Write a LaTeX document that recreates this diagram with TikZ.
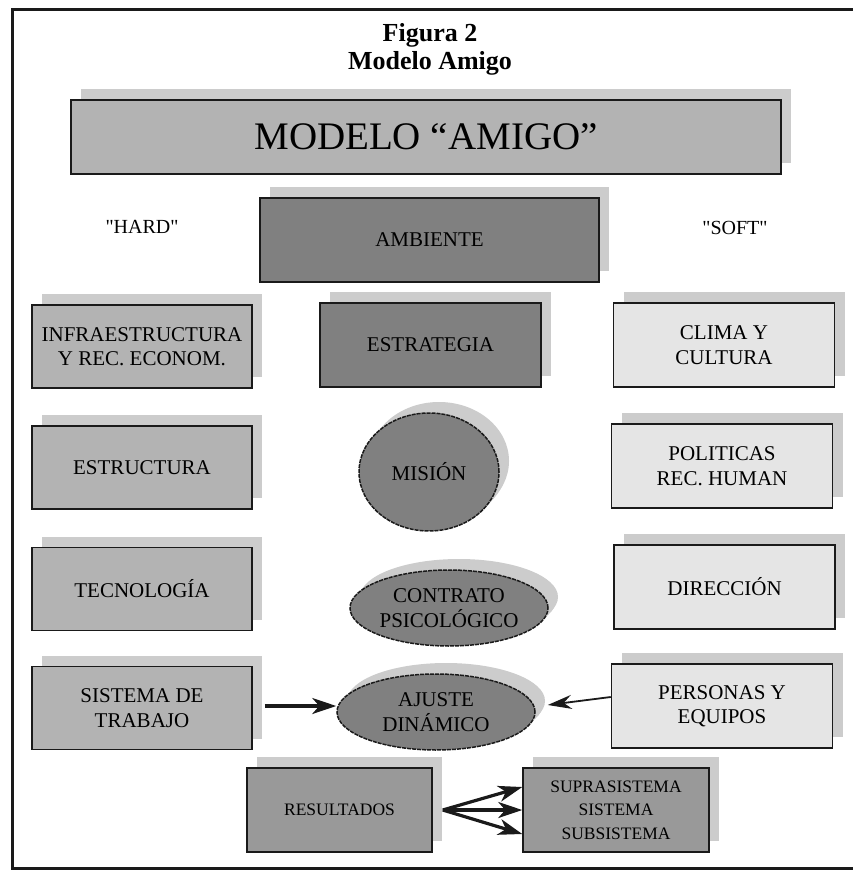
\documentclass[tikz,border=0pt]{standalone}
\usepackage{fontspec}
\setmainfont{Liberation Serif}
\newfontfamily\rawserif[Ligatures=TeXOff]{Liberation Serif}
\usetikzlibrary{shapes.geometric,shadows,arrows.meta}
\definecolor{hardgray}{HTML}{B3B3B3}
\definecolor{darkfill}{HTML}{808080}
\definecolor{midfill}{HTML}{999999}
\definecolor{softgray}{HTML}{E5E5E5}
\definecolor{shd}{HTML}{CCCCCC}
\definecolor{edge}{HTML}{1A1A1A}
\tikzset{
  base/.style={draw=edge, line width=1.5pt, align=center, inner sep=0pt,
    general shadow={fill=shd, shadow xshift=10pt, shadow yshift=11pt},
    font=\fontsize{21}{24.5}\selectfont},
  hardbox/.style={base, fill=hardgray, minimum width=220pt, minimum height=83pt},
  softbox/.style={base, fill=softgray, minimum width=221pt, minimum height=84pt},
  darkbox/.style={base, fill=darkfill, minimum height=84pt},
  midbox/.style={base, fill=midfill, minimum width=186pt, minimum height=84pt,
    font=\fontsize{17.5}{23.5}\selectfont},
  oval/.style={base, ellipse, fill=darkfill, dash pattern=on 4pt off 1pt,
    general shadow={fill=shd, shadow xshift=8pt, shadow yshift=8pt}},
  heading/.style={font=\fontsize{26}{29}\bfseries\selectfont},
  sidelabel/.style={font=\rawserif\fontsize{20}{23}\selectfont},
  thickarrow/.style={line width=3.2pt, -{Stealth[length=24pt,width=16pt,inset=7pt]}},
  thinarrow/.style={line width=1.8pt, -{Stealth[length=24pt,width=14pt,inset=8pt]}}
}
\begin{document}
\begin{tikzpicture}[x=1pt,y=-1pt]
\useasboundingbox (0,0) rectangle (852,874);
\fill[white] (0,0) rectangle (852,874);
\draw[line width=3pt, edge] (12,10) rectangle (880,868);

\node[heading] (fig) at (430,35) {Figura 2};
\node[heading] (figname) at (430,63) {Modelo Amigo};

\node[base, fill=hardgray, minimum width=710pt, minimum height=74pt,
      font=\fontsize{39}{42}\selectfont] (title) at (426,137) {MODELO ``AMIGO''};

\node[sidelabel] (hard) at (142,227) {"HARD"};
\node[sidelabel] (soft) at (735,228) {"SOFT"};

\node[darkbox, minimum width=339pt] (amb) at (429.5,240) {AMBIENTE};
\node[darkbox, minimum width=221pt] (estr) at (430.5,345) {ESTRATEGIA};

\node[hardbox] (infra) at (142,346.5) {INFRAESTRUCTURA\\Y REC. ECONOM.};
\node[hardbox] (estruc) at (142,467.5) {ESTRUCTURA};
\node[hardbox] (tecno) at (142,589) {TECNOLOGÍA};
\node[hardbox] (sist) at (142,708) {SISTEMA DE\\TRABAJO};

\node[softbox] (clima) at (724,345) {CLIMA Y\\CULTURA};
\node[softbox] (polit) at (722,466) {POLITICAS\\REC. HUMAN};
\node[softbox] (direc) at (724.5,587) {DIRECCIÓN};
\node[softbox] (pers) at (722,706) {PERSONAS Y\\EQUIPOS};

\node[oval, minimum width=140pt, minimum height=118pt] (mision) at (429,472) {MISIÓN};
\node[oval, minimum width=198pt, minimum height=76pt] (contrato) at (449,608) {CONTRATO\\PSICOLÓGICO};
\node[oval, minimum width=198pt, minimum height=76pt] (ajuste) at (436,712) {AJUSTE\\DINÁMICO};

\node[midbox, minimum width=185pt] (result) at (339.5,810) {RESULTADOS};
\node[midbox] (supra) at (616,810) {SUPRASISTEMA\\SISTEMA\\SUBSISTEMA};

\coordinate (s1) at ([xshift=12pt,yshift=2pt]sist.east);
\draw[thickarrow, edge] (s1) -- (s1 -| ajuste.west);

\coordinate (p1) at ([yshift=9pt]pers.west);
\coordinate (a1) at ([xshift=12pt,yshift=7pt]ajuste.east);
\draw[thinarrow, edge] (p1) -- (a1);

\coordinate (r1) at ([xshift=10pt]result.east);
\draw[thickarrow, edge] (r1) -- ([yshift=23pt]supra.west);
\draw[thickarrow, edge] (r1) -- (supra.west);
\draw[thickarrow, edge] (r1) -- ([yshift=-24pt]supra.west);
\end{tikzpicture}
\end{document}
